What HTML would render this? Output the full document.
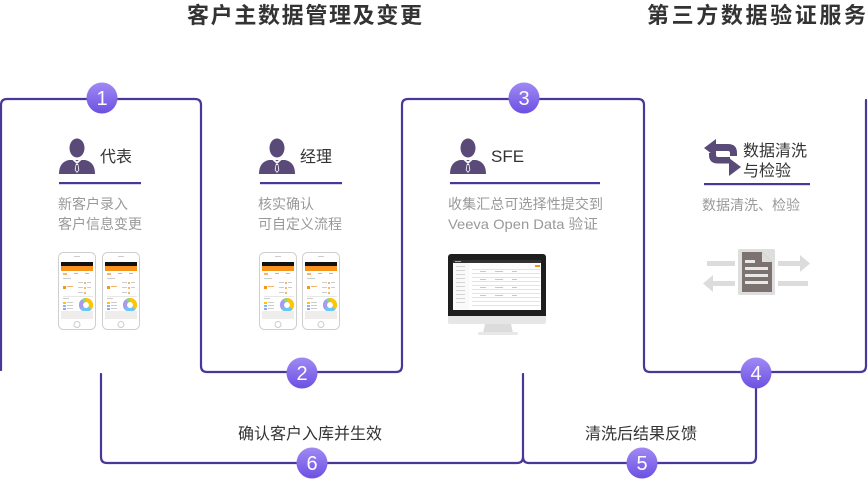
<!DOCTYPE html>
<html><head><meta charset="utf-8"><style>
html,body{margin:0;padding:0;background:#fff;width:868px;height:479px;overflow:hidden}
svg{display:block}
text{font-family:"Liberation Sans","Noto Sans CJK SC",sans-serif}
</style></head><body>
<svg width="868" height="479" viewBox="0 0 868 479" xmlns="http://www.w3.org/2000/svg">
<defs>
<linearGradient id="cg" x1="0" y1="0" x2="0" y2="1"><stop offset="0" stop-color="#a08af4"/><stop offset="1" stop-color="#6c50e2"/></linearGradient>
<symbol id="person" viewBox="0 0 36 36" width="36" height="36">
<ellipse cx="18" cy="10" rx="7.5" ry="9.5" fill="#5a4a78"/>
<path d="M0,36 Q0,24 10,22 L26,22 Q36,24 36,36 Z" fill="#5a4a78"/>
<polygon points="13.5,22 18,26 22.5,22 21,21 18,23.5 15,21" fill="#fff"/>
<polygon points="16.8,26 19.2,26 20.3,32 18,35 15.7,32" fill="#fff"/>
<polygon points="17.3,27 18.7,27 19.4,32 18,33.8 16.6,32" fill="#5a4a78"/>
</symbol>
<symbol id="phone" viewBox="0 0 38 78" width="38" height="78">
<rect x="0.5" y="0.5" width="37" height="77" rx="5" fill="#fff" stroke="#cfcfcf"/>
<rect x="16" y="4" width="6" height="1" fill="#ccc"/>
<rect x="3" y="10" width="32" height="4" fill="#111"/>
<rect x="3" y="14" width="32" height="5" fill="#f7941d"/>
<rect x="3" y="19" width="32" height="40" fill="#fff"/>
<rect x="5" y="21" width="4" height="2" fill="#f7b46a"/>
<rect x="16" y="21" width="4" height="1" fill="#bbb"/>
<rect x="27" y="21" width="4" height="1" fill="#bbb"/>
<rect x="5" y="26" width="8" height="1" fill="#ccc"/>
<rect x="20" y="30" width="5" height="1" fill="#ccc"/><rect x="26" y="30" width="2" height="2" fill="#f7b46a"/><rect x="29" y="30" width="4" height="1" fill="#ccc"/>
<rect x="5" y="34" width="3" height="3" fill="#f7941d"/><rect x="9" y="34" width="6" height="1" fill="#f7b46a"/>
<rect x="20" y="35" width="5" height="1" fill="#ccc"/><rect x="26" y="35" width="2" height="2" fill="#f7b46a"/><rect x="29" y="35" width="4" height="1" fill="#ccc"/>
<rect x="20" y="40" width="5" height="1" fill="#ccc"/><rect x="26" y="40" width="2" height="2" fill="#f7b46a"/>
<rect x="5" y="44" width="30" height="0.7" fill="#ddd"/>
<rect x="5" y="46" width="6" height="1" fill="#ccc"/>
<rect x="5" y="50" width="3" height="2" fill="#ffc600"/><rect x="9" y="50" width="6" height="1" fill="#ccc"/>
<rect x="5" y="53" width="3" height="2" fill="#6cc6f5"/><rect x="9" y="53" width="6" height="1" fill="#ccc"/>
<rect x="5" y="56" width="3" height="2" fill="#a99af0"/><rect x="9" y="56" width="6" height="1" fill="#ccc"/>
<circle cx="28" cy="53" r="5" fill="none" stroke="#6cc6f5" stroke-width="4"/>
<path d="M28,48 A5,5 0 0 1 32,56" fill="none" stroke="#ffc600" stroke-width="4"/>
<path d="M24,56 A5,5 0 0 1 25,49" fill="none" stroke="#a99af0" stroke-width="4"/>
<path d="M25,49 A5,5 0 0 1 28,48" fill="none" stroke="#9bd36b" stroke-width="4"/>
<rect x="3" y="59" width="32" height="8" fill="#efecec"/>
<circle cx="19" cy="72.5" r="3" fill="none" stroke="#ccc"/>
</symbol>
</defs>

<!-- titles -->
<text x="187" y="23" font-size="22" font-weight="bold" fill="#333" textLength="235" lengthAdjust="spacing">客户主数据管理及变更</text>
<text x="647" y="23" font-size="22" font-weight="bold" fill="#333" textLength="219" lengthAdjust="spacing">第三方数据验证服务</text>

<!-- connector paths -->
<g fill="none" stroke="#4b3798" stroke-width="2.2" stroke-linecap="round">
<path d="M1,370 V105 Q1,99 7,99 H195 Q201,99 201,105 V366 Q201,372 207,372 H396 Q402,372 402,366 V105 Q402,99 408,99 H638 Q644,99 644,105 V366 Q644,372 650,372 H860 Q866,372 866,366 V100"/>
<path d="M101,374 V457 Q101,463 107,463 H517 Q523,463 523,457 V374"/>
<path d="M523,457 Q523,463 529,463 H750 Q756,463 756,457 V374"/>
</g>

<!-- box 1 -->
<use href="#person" x="59" y="138"/>
<text x="100" y="162" font-size="16" fill="#333">代表</text>
<rect x="59" y="182" width="82" height="2.2" fill="#4b3798"/>
<text x="58" y="209" font-size="14" fill="#999">新客户录入</text>
<text x="58" y="229" font-size="14" fill="#999">客户信息变更</text>
<use href="#phone" x="58" y="252"/>
<use href="#phone" x="102" y="252"/>

<!-- box 2 -->
<use href="#person" x="259" y="138"/>
<text x="300" y="162" font-size="16" fill="#333">经理</text>
<rect x="260" y="182" width="82" height="2.2" fill="#4b3798"/>
<text x="258" y="209" font-size="14" fill="#999">核实确认</text>
<text x="258" y="229" font-size="14" fill="#999">可自定义流程</text>
<use href="#phone" x="259" y="252"/>
<use href="#phone" x="302" y="252"/>

<!-- box 3 -->
<use href="#person" x="450" y="138"/>
<text x="491" y="162" font-size="17" fill="#333">SFE</text>
<rect x="450" y="182" width="150" height="2.2" fill="#4b3798"/>
<text x="448" y="209" font-size="14" fill="#999" textLength="155" lengthAdjust="spacing">收集汇总可选择性提交到</text>
<text x="448" y="229" font-size="14" fill="#999" textLength="150" lengthAdjust="spacingAndGlyphs">Veeva Open Data 验证</text>
<!-- monitor -->
<g>
<rect x="448" y="254" width="98" height="62" rx="3" fill="#1e1e1e"/>
<rect x="448" y="313" width="98" height="11" rx="2" fill="#e6e6e6"/>
<rect x="448" y="313" width="98" height="3" fill="#1e1e1e"/>
<rect x="453" y="260" width="88" height="50" fill="#fff"/>
<rect x="453" y="260" width="88" height="3" fill="#333"/>
<rect x="455" y="261" width="6" height="1" fill="#f7941d"/>
<rect x="453" y="263" width="16" height="47" fill="#fafafa"/>
<g fill="#ccc">
<rect x="456" y="266" width="9" height="0.8"/><rect x="456" y="270" width="9" height="0.8"/><rect x="456" y="274" width="9" height="0.8"/><rect x="456" y="278" width="9" height="0.8"/><rect x="456" y="282" width="9" height="0.8"/><rect x="456" y="286" width="9" height="0.8"/><rect x="456" y="290" width="9" height="0.8"/><rect x="456" y="294" width="9" height="0.8"/><rect x="456" y="298" width="9" height="0.8"/><rect x="456" y="302" width="9" height="0.8"/>
</g>
<rect x="535" y="265" width="5" height="2" fill="#f7941d"/>
<g fill="#ddd">
<rect x="472" y="269" width="68" height="0.8"/><rect x="472" y="273" width="68" height="0.8"/><rect x="472" y="277" width="68" height="0.8"/><rect x="472" y="281" width="68" height="0.8"/><rect x="472" y="285" width="68" height="0.8"/><rect x="472" y="289" width="68" height="0.8"/><rect x="472" y="293" width="68" height="0.8"/><rect x="472" y="297" width="68" height="0.8"/><rect x="472" y="301" width="68" height="0.8"/><rect x="472" y="305" width="68" height="0.8"/>
</g>
<g fill="#bbb">
<rect x="480" y="271" width="6" height="0.8"/><rect x="495" y="271" width="8" height="0.8"/><rect x="512" y="271" width="5" height="0.8"/>
<rect x="480" y="279" width="6" height="0.8"/><rect x="495" y="279" width="8" height="0.8"/><rect x="512" y="279" width="5" height="0.8"/>
<rect x="480" y="287" width="6" height="0.8"/><rect x="495" y="287" width="8" height="0.8"/><rect x="512" y="287" width="5" height="0.8"/>
<rect x="480" y="295" width="6" height="0.8"/><rect x="495" y="295" width="8" height="0.8"/><rect x="512" y="295" width="5" height="0.8"/>
</g>
<polygon points="485,324 511,324 513,333 483,333" fill="#dcdcdc"/>
<rect x="478" y="332" width="40" height="3" rx="1.5" fill="#e8e8e8"/>
</g>

<!-- box 4 -->
<g fill="#5a4a78">
<polygon points="704,148 716,139 716,157"/>
<path d="M715,144 H728 Q737,144 737,153 V156 H730 V153 Q730,151 728,151 H715 Z"/>
<polygon points="741,167 729,158 729,176"/>
<path d="M730,163.5 H718 Q709,163.5 709,155 V153 H716 V155 Q716,157 718,157 H730 Z"/>
</g>
<text x="743" y="156" font-size="16" fill="#333">数据清洗</text>
<text x="743" y="176" font-size="16" fill="#333">与检验</text>
<rect x="704" y="183" width="106" height="2.2" fill="#4b3798"/>
<text x="702" y="210" font-size="14" fill="#999">数据清洗、检验</text>
<!-- gray arrows -->
<g fill="#dcdcdc">
<rect x="707" y="261" width="28" height="5"/>
<rect x="778" y="261" width="24" height="5"/>
<polygon points="810,263.5 800,255 800,272"/>
<rect x="711" y="281" width="24" height="5"/>
<polygon points="703,283.5 713,275 713,292"/>
<rect x="778" y="281" width="30" height="5"/>
</g>
<!-- document -->
<rect x="738" y="249" width="37" height="46" rx="2" fill="#dedede"/>
<path d="M742,252 H762 L772,262 V292 H742 Z" fill="#7c7370"/>
<path d="M762,252 V262 H772 Z" fill="#dedede"/>
<g fill="#e8e8e8">
<rect x="745" y="260" width="10" height="3"/>
<rect x="745" y="267" width="23" height="3"/>
<rect x="745" y="274" width="23" height="3"/>
<rect x="745" y="281" width="23" height="3"/>
</g>

<!-- bottom labels -->
<text x="310" y="439" font-size="16" fill="#333" text-anchor="middle">确认客户入库并生效</text>
<text x="641" y="439" font-size="16" fill="#333" text-anchor="middle">清洗后结果反馈</text>

<!-- step circles -->
<g>
<circle cx="102" cy="98" r="15.5" fill="url(#cg)"/>
<circle cx="302" cy="373" r="15.5" fill="url(#cg)"/>
<circle cx="524" cy="98" r="15.5" fill="url(#cg)"/>
<circle cx="756" cy="373" r="15.5" fill="url(#cg)"/>
<circle cx="642" cy="463" r="15.5" fill="url(#cg)"/>
<circle cx="312" cy="463" r="15.5" fill="url(#cg)"/>
</g>
<g font-size="20" fill="#fff" text-anchor="middle">
<text x="102" y="105">1</text>
<text x="302" y="380">2</text>
<text x="524" y="105">3</text>
<text x="756" y="380">4</text>
<text x="642" y="470">5</text>
<text x="312" y="470">6</text>
</g>
</svg>
</body></html>
